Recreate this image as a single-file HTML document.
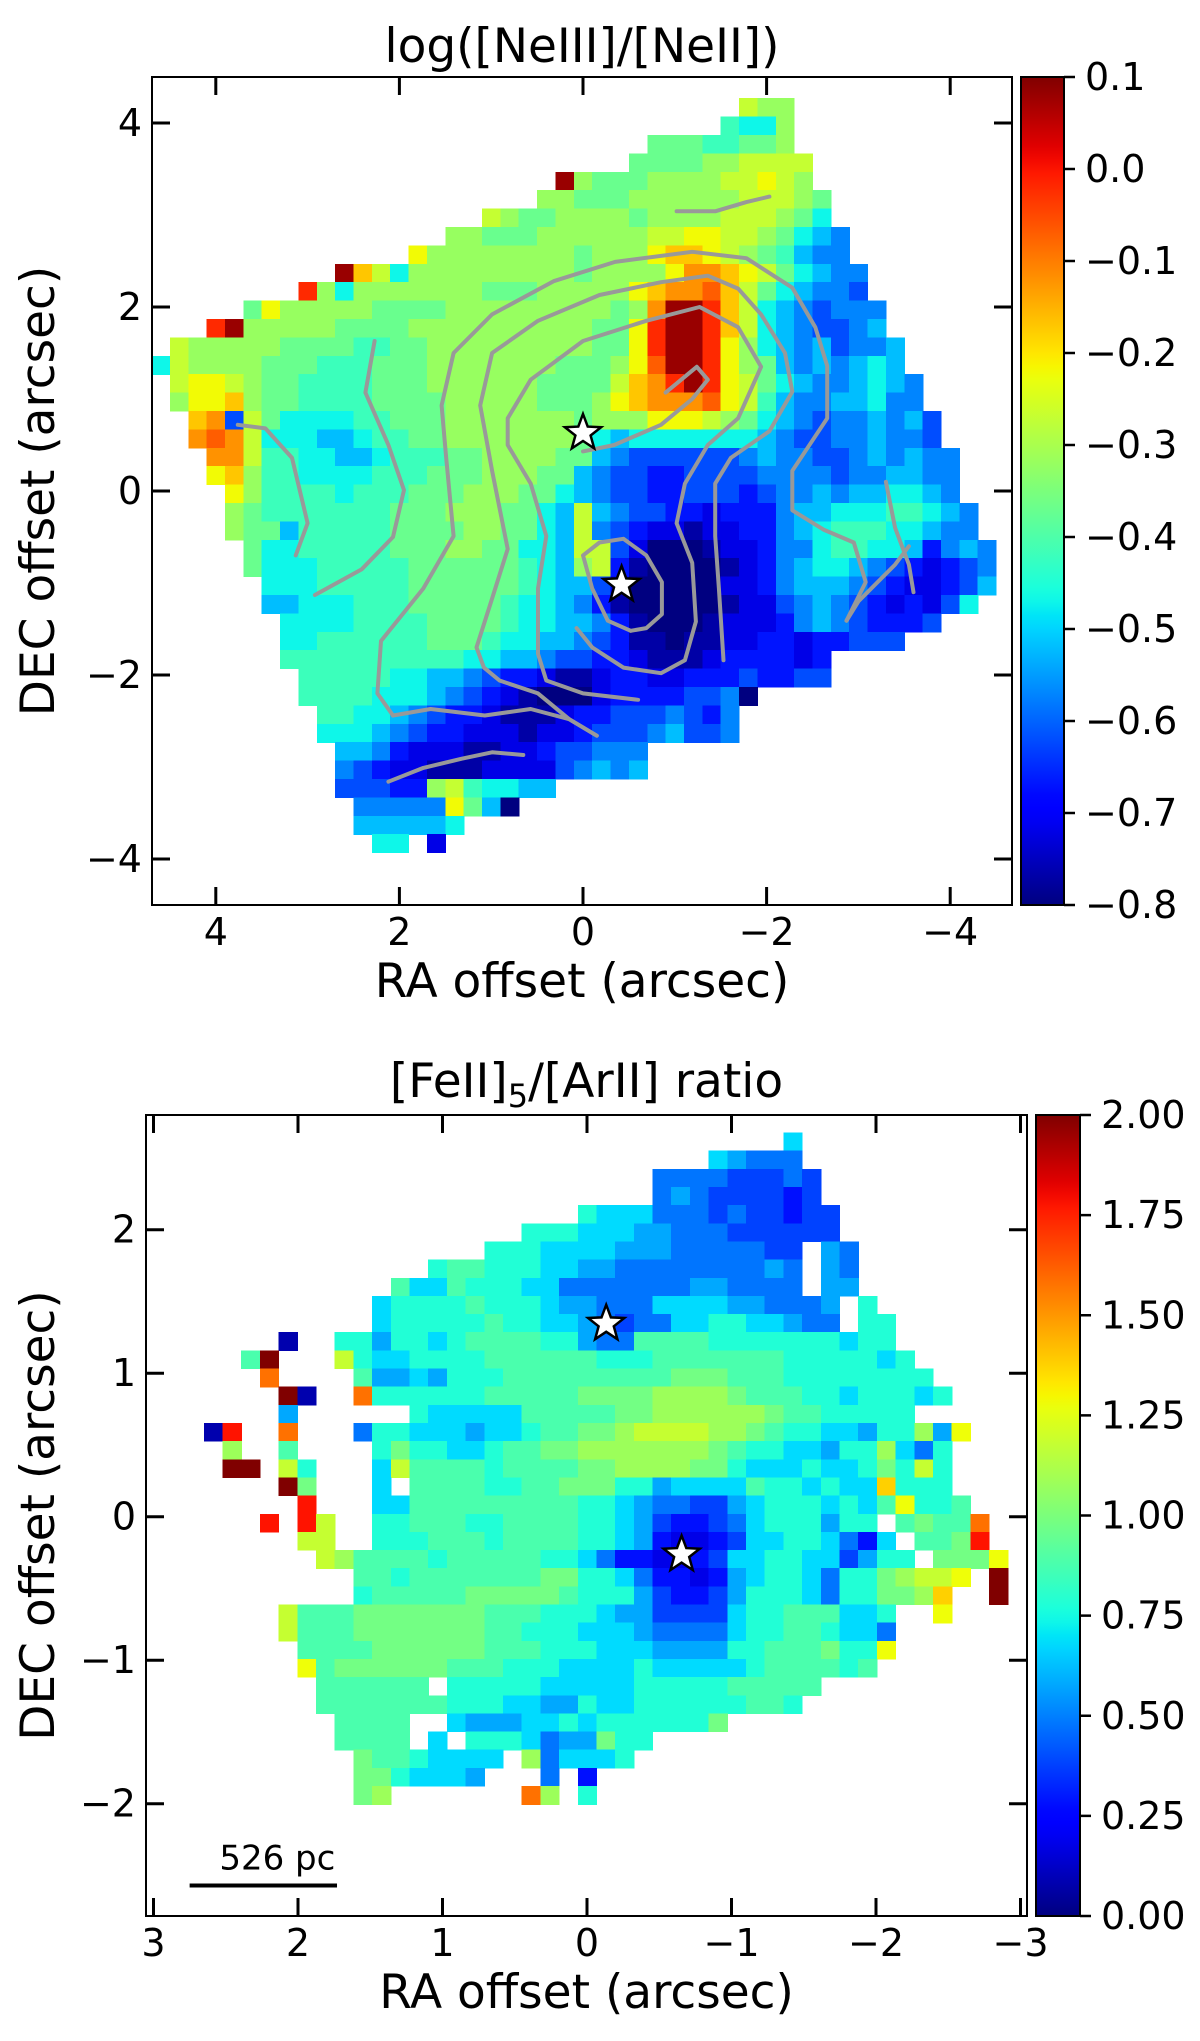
<!DOCTYPE html>
<html><head><meta charset="utf-8">
<style>
html,body{margin:0;padding:0;background:#fff;}
svg{display:block;font-family:"DejaVu Sans","Liberation Sans",sans-serif;}
</style></head>
<body>
<svg id="fig" width="1200" height="2041" viewBox="0 0 1200 2041" xmlns="http://www.w3.org/2000/svg">
<defs>
<linearGradient id="jetv" x1="0" y1="1" x2="0" y2="0"></linearGradient>
</defs>
<g id="top"></g>
<g id="bot"></g>
</svg>
<script>
// ---------- DATA: top panel log([NeIII]/[NeII]); letter a=-0.82, step 0.05 ----------
const topRowStart = [32,31,27,26,22,21,18,16,14,10,8,5,3,1,0,1,1,2,2,3,3,4,4,4,5,5,6,6,7,7,7,8,8,9,9,10,10,10,11,11,12];
const topRowCodes = [
"lkk","ihhk","jjjiijjk","jjjjkkllll","skjjjkkkkllmlk","kkjjjkkkkkklllkj",
"lkjjkkkkjkkkklllkjh","kkjjjkkkkkkllmmllkjhgf","mkkkkkkkkjkkkmnnmlkjigff",
"snlhkkkkkkkkkjkkkkmoonmljhgff","qkhkkkkkkkjjjkkkkkmnoopnljhgffe",
"jmkkkkkjjjjkkkkkkkkkjkossqnlhgfefff",
"qskkkkkjjjjkkkkkkkkkkjjmqssqnlhgfeefg",
"lkkkkkjjjjiijjkkkkkkkkkjjmqssqmkhgfgeffg",
"hlkkkkjjjiiijjjkkkkkkkjjjkmpssqmkjgfgfghg",
"lmmlkjjiiiijjjkkkkkkjjjjlnoqsqmljhgffghgf",
"kmmnkjjiiiijjjjkkkkkjjjkmnooopmligffgghff",
"noeljhhhhiijjjkkkkkkkjkkkmmmlkjhgfeffgfge",
"opolhhhgghiijjkkkkkkkjhghhhhhhhgfeeffgffe",
"ooliihhgghiiijjkkkkjjgfeeeeeefgffeefgfgff",
"mnkiihhhhiiijjjkkkjjgfeeddeeeeffffeffggff",
"mkiiiihiiijjjkkkjjhgfeeddeeedeffgfgghhgf",
"kjiiiiiiijjjkkkjjhglgfeeddcdddfgghhhiihgf",
"kjjgiiiiijjjjkkjjhglfedccbccddfghiiihhgff",
"jhhiiiiijjjkkjjhhgllecaaabccdffhiihhgdfgf",
"jhhhiiiiijjjjjjihgkldbaaaabcdfghhgfedcdef",
"hhhiiiiijjjjjjihggecaaaaaccdfgggfedccdeg",
"gghhhiiijjjjjihhgfdbaaaaabccefgfedcdceh",
"hhhhiiiijjjjihhggfdbaaabcccdfgfeddde",
"hhiiiiiijjjihhggfedbbabbccddcddeee",
"iiiiiiiiiihhggfeeddcbbbcddddcd",
"iiiiihhggfeddcbbcddccdddeddee",
"iiiihhhgfedcbaaacddddeefa",
"iihhgfeddcbbbcddeeefedf",
"hhhgfeddcccbccdeeefgeef",
"ggfdcccbbccdeefff",
"fedccbbbccccefgfg",
"eeeddklihhgg",
"fffffmjga",
"gggggh",
"hh.c"];
const topRA0 = 4.70, topDEC0 = 4.27, topCell = 0.2;
const topVmin = -0.8, topVmax = 0.1, topCodeBase = -0.82, topStep = 0.05;
const topXTicks = [4,2,0,-2,-4];
const topXTickLabels = ["4","2","0","\u22122","\u22124"];
const topYTicks = [4,2,0,-2,-4];
const topYTickLabels = ["4","2","0","\u22122","\u22124"];
const topCbTicks = [0.1,0,-0.1,-0.2,-0.3,-0.4,-0.5,-0.6,-0.7,-0.8];
const topCbLabels = ["0.1","0.0","\u22120.1","\u22120.2","\u22120.3","\u22120.4","\u22120.5","\u22120.6","\u22120.7","\u22120.8"];
const topStarsRA = [0.0, -0.42];
const topStarsDEC = [0.63, -1.02];
const contourRA = [
[-1.02,-1.44,-1.78,-2.03],
[3.76,3.46,3.17,3.0,3.13],
[2.27,2.37,2.12,1.95,2.07,2.41,2.92],
[2.07,2.24,2.20,1.74,1.41,1.49,1.54,1.41,0.99,0.32,-0.35,-1.19,-1.78,-2.28,-2.53,-2.66,-2.66,-2.28,-2.28,-2.62,-2.95,-3.08,-2.87],
[-0.15,0.15,0.49,0.91,1.08,1.16,1.0,0.82,0.99,1.12,0.99,0.49,-0.18,-0.85,-1.36,-1.69,-1.94,-2.2,-2.28,-2.03,-1.61,-1.44,-1.44,-1.48,-1.53],
[-0.6,0.0,0.4,0.49,0.49,0.4,0.57,0.82,0.82,0.57,0.0,-0.69,-1.27,-1.69,-1.94,-1.69,-1.36,-1.11,-1.02,-1.19,-1.23,-1.11,-0.85,-0.44,-0.1,0.07],
[0.0,-0.34,-0.85,-1.19,-1.36,-1.24,-1.07,-0.9],
[-0.52,-0.27,-0.1,0.0,-0.18,-0.44,-0.69,-0.86,-0.86,-0.69,-0.52],
[2.07,1.66,1.07,0.57,0.15,-0.15],
[2.12,1.74,1.32,0.99,0.65],
[-3.3,-3.4,-3.55,-3.6],
[-2.87,-3.0,-3.4,-3.55]];
const contourDEC = [
[3.04,3.04,3.14,3.2],
[0.72,0.68,0.36,-0.35,-0.7],
[1.63,1.07,0.5,0.01,-0.5,-0.85,-1.13],
[-2.44,-2.2,-1.63,-1.06,-0.49,0.36,0.93,1.5,1.92,2.28,2.49,2.6,2.53,2.21,1.78,1.36,0.79,0.22,-0.21,-0.42,-0.56,-0.99,-1.41],
[-2.66,-2.48,-2.2,-2.06,-1.92,-1.7,-1.2,-0.63,0.22,0.93,1.5,1.85,2.13,2.27,2.34,2.2,1.92,1.5,1.08,0.65,0.36,0.08,-0.49,-1.06,-1.84],
[-2.27,-2.2,-2.06,-1.77,-1.06,-0.49,0.08,0.5,0.79,1.21,1.63,1.85,2.0,1.78,1.35,0.79,0.5,0.08,-0.35,-0.78,-1.42,-1.84,-1.98,-1.92,-1.7,-1.49],
[0.43,0.5,0.72,1.0,1.21,1.35,1.21,1.07],
[-1.52,-1.41,-1.06,-0.7,-0.56,-0.52,-0.7,-0.99,-1.34,-1.49,-1.52],
[-2.44,-2.37,-2.44,-2.37,-2.48,-2.66],
[-3.16,-3.01,-2.91,-2.84,-2.87],
[0.1,-0.4,-0.8,-1.1],
[-1.41,-1.2,-0.8,-0.6]];

// ---------- DATA: bottom panel [FeII]5/[ArII]; letter a=0.08, step 0.1 ----------
const botRowStart = [31,27,24,24,20,17,15,12,10,9,9,4,2,3,4,4,0,1,1,4,5,3,5,6,8,8,4,4,5,5,6,6,7,7,8,8,8];
const botRowCodes = [
"g","gfeee","eeeeddded","efeddddcd","hgggeeededdcdd","hhhgggffeeedddddd",
"hhhggggfffeeeeedd.fe","hiihhhggffeeeeeeeefe.fe","iggihhhggeeeeeeeffeeee.ff",
"ghhhhihhhgffeeeggggffeeef.h","ghhhhhihhggfedeegghhggfee.hh",
"a..hhfhhghiiiihhfeeiiiihhhhhhhghh",
"iu...lhgghhhhiiiiiihhhiiiiiiihhhhhgh",
"p....iffgfhhhiiiiiiiiijjjiiihhhhhhhh",
"ua..phhhhhhiiiiijjjjkkkkjiiihhghhhgh",
"f......hgggggiiiiijjkkkkkkjiihhhhh",
"ar..p...ehhgggfgghiijjkllllkkjihhggfhhkfm",
"k..i....hjhhgghiijjkkkkkkkjihhggfhhkgeh",
"uu.lh...gliiiihiiiijjkkkkjjhggghgghjhlh",
"uj...g.iiiihhiijjjhhfggggihhghggnhhh",
"r...ggiiiiiiiiihhgfeeddfghhhghgimhhi",
"r.rl..hhiiihhiiiihhgfdccdeghhhfhh.ijiip",
"ll..hhhiiihiiiihhgfcbbcdgghhgecg.iijr",
"lkiiiihiiiiihhgeccbbcdgghhggdfhh.jjjm",
"iihiiiiiiijjhhgeccbcfghhgehhjkllm.u",
"hiiiiijjjjjihhhfdccdfhhhgehhjjkn..u",
"liiijjjjjjjiiihhhgffddddghhiiiggh..m",
"liiijjjjjjjiihhhgggfeeeeghhiihgge",
"iiiijjjjjjiiihhhgggffffhhiiijhhm",
"mijjjjjjiiihhhgggghggggghiiiihi",
"iiiiii.hhhhhggggghhhhhiiiii",
"iiiiiiihhhggffhgghhhhhhiih",
"iiii..gfffgghghhhhhhj",
"iiii.g.hhhgeffjhh",
"jiihgggg.kegggh",
"jjhgggf...e.c",
"jk.......pk.h"];
const botRA0 = 2.652, botDEC0 = 2.677, botCellW = 0.1294, botCellH = 0.1265;
const botVmin = 0, botVmax = 2, botCodeBase = 0.08, botStep = 0.1;
const botXTicks = [3,2,1,0,-1,-2,-3];
const botXTickLabels = ["3","2","1","0","\u22121","\u22122","\u22123"];
const botYTicks = [2,1,0,-1,-2];
const botYTickLabels = ["2","1","0","\u22121","\u22122"];
const botCbTicks = [2,1.75,1.5,1.25,1,0.75,0.5,0.25,0];
const botCbLabels = ["2.00","1.75","1.50","1.25","1.00","0.75","0.50","0.25","0.00"];
const botStarsRA = [-0.133, -0.655];
const botStarsDEC = [1.344, -0.264];
const scaleBarRA = [2.75, 1.73];
const scaleBarDEC = -2.57;

const NS = "http://www.w3.org/2000/svg";
function mk(tag, attrs, parent){ const e=document.createElementNS(NS,tag); for(const k in attrs) e.setAttribute(k,attrs[k]); if(parent) parent.appendChild(e); return e; }
function clamp(v){ return Math.max(0,Math.min(1,v)); }
function interp(pts,t){
  for(let i=1;i<pts.length;i++){ if(t<=pts[i][0]){ const a=pts[i-1],b=pts[i]; return a[1]+(b[1]-a[1])*(t-a[0])/(b[0]-a[0]); } }
  return pts[pts.length-1][1];
}
const JR=[[0,0],[0.35,0],[0.66,1],[0.89,1],[1,0.5]];
const JG=[[0,0],[0.125,0],[0.375,1],[0.64,1],[0.91,0],[1,0]];
const JB=[[0,0.5],[0.11,1],[0.34,1],[0.65,0],[1,0]];
function jet(t){
  t = clamp(t);
  return "rgb("+Math.round(interp(JR,t)*255)+","+Math.round(interp(JG,t)*255)+","+Math.round(interp(JB,t)*255)+")";
}
const grad = document.getElementById('jetv');
for(let i=0;i<=60;i++){ mk('stop',{offset:(i/60),'stop-color':jet(i/60)},grad); }

function starPath(cx,cy,R){
  const r=R*0.42; let d="";
  for(let i=0;i<10;i++){ const a=-Math.PI/2+i*Math.PI/5; const rr=i%2?r:R; d+=(i?"L":"M")+(cx+rr*Math.cos(a)).toFixed(1)+","+(cy+rr*Math.sin(a)).toFixed(1); }
  return d+"Z";
}

function panel(cfg){
  const g = document.getElementById(cfg.gid);
  const X = ra => cfg.x0 - cfg.sx*ra;
  const Y = dec => cfg.y0 - cfg.sy*dec;
  const cells = mk('g',{'shape-rendering':'crispEdges'},g);
  
  
  for(let i=0;i<cfg.codes.length;i++){
    const s = cfg.codes[i];
    for(let k=0;k<s.length;k++){
      const ch = s[k]; if(ch==='.') continue;
      const v = cfg.base + (ch.charCodeAt(0)-97)*cfg.step;
      const j = cfg.start[i]+k;
      const raL = cfg.ra0 - j*cfg.cw, raR = raL - cfg.cw;
      const decT = cfg.dec0 - i*cfg.ch, decB = decT - cfg.ch;
      const r = mk('rect',{x:X(raL).toFixed(2),y:Y(decT).toFixed(2),width:(X(raR)-X(raL)+0.6).toFixed(2),height:(Y(decB)-Y(decT)+0.6).toFixed(2),fill:jet((v-cfg.vmin)/(cfg.vmax-cfg.vmin))},cells);
      
      
    }
  }
  if(cfg.cRA){
    for(let c=0;c<cfg.cRA.length;c++){
      let pts = cfg.cRA[c].map((ra,i)=>X(ra).toFixed(1)+","+Y(cfg.cDEC[c][i]).toFixed(1)).join(" ");
      const pl = mk('polyline',{points:pts,fill:'none',stroke:'#999',"stroke-width":4,"stroke-linejoin":"round","stroke-linecap":"round"},g);
      
      
    }
  }
  for(let s=0;s<cfg.starRA.length;s++){
    const st = mk('path',{d:starPath(X(cfg.starRA[s]),Y(cfg.starDEC[s]),19),fill:'#fff',stroke:'#000','stroke-width':2.5,'stroke-linejoin':'miter'},g);
    
    
  }
  if(cfg.sbRA){
    const ln = mk('line',{x1:X(cfg.sbRA[0]),x2:X(cfg.sbRA[1]),y1:Y(cfg.sbDEC),y2:Y(cfg.sbDEC),stroke:'#000','stroke-width':4},g);
    
    
    const t = mk('text',{x:(X(cfg.sbRA[0])+X(cfg.sbRA[1]))/2+14,y:Y(cfg.sbDEC)-16,'font-size':34,'text-anchor':'middle'},g);
    t.textContent='526 pc';
    
    
  }
  const fr = mk('rect',{x:cfg.L,y:cfg.T,width:cfg.R-cfg.L,height:cfg.B-cfg.T,fill:'none',stroke:'#000','stroke-width':2},g);
  
  
  const tl=18;
  cfg.xt.forEach((v,i)=>{
    const x=X(v);
    mk('line',{x1:x,x2:x,y1:cfg.B,y2:cfg.B-tl,stroke:'#000','stroke-width':3},g);
    mk('line',{x1:x,x2:x,y1:cfg.T,y2:cfg.T+tl,stroke:'#000','stroke-width':3},g);
    const t=mk('text',{x:x,y:cfg.B+40,'font-size':38,'text-anchor':'middle'},g);
    t.textContent=cfg.xtl[i];
    
    
  });
  cfg.yt.forEach((v,i)=>{
    const y=Y(v);
    mk('line',{x1:cfg.L,x2:cfg.L+tl,y1:y,y2:y,stroke:'#000','stroke-width':3},g);
    mk('line',{x1:cfg.R,x2:cfg.R-tl,y1:y,y2:y,stroke:'#000','stroke-width':3},g);
    const t=mk('text',{x:cfg.L-10,y:y+13,'font-size':38,'text-anchor':'end'},g);
    t.textContent=cfg.ytl[i];
    
    
  });
  const tt=mk('text',{x:(cfg.L+cfg.R)/2,y:cfg.titleY,'font-size':47,'text-anchor':'middle'},g);
  tt.innerHTML=cfg.title;
  
  
  const xl=mk('text',{x:(cfg.L+cfg.R)/2,y:cfg.B+92,'font-size':47,'text-anchor':'middle'},g);
  xl.textContent='RA offset (arcsec)';
  
  
  const cy=(cfg.T+cfg.B)/2;
  const yl=mk('text',{x:0,y:0,'font-size':47,'text-anchor':'middle',transform:'translate(54,'+cy+') rotate(-90)'},g);
  yl.textContent='DEC offset (arcsec)';
  
  
  const cb=mk('rect',{x:cfg.cbL,y:cfg.T,width:cfg.cbR-cfg.cbL,height:cfg.B-cfg.T,fill:'url(#jetv)',stroke:'#000','stroke-width':2},g);
  
  
  cfg.cbt.forEach((v,i)=>{
    const y = cfg.B - (v-cfg.vmin)/(cfg.vmax-cfg.vmin)*(cfg.B-cfg.T);
    mk('line',{x1:cfg.cbR,x2:cfg.cbR+11,y1:y,y2:y,stroke:'#000','stroke-width':2.5},g);
    const t=mk('text',{x:cfg.cbR+21,y:y+13,'font-size':38},g);
    t.textContent=cfg.cbl[i];
    
    
  });
}

panel({gid:'top',x0:583,sx:91.8,y0:491,sy:92,L:152,R:1012,T:77,B:905,
  codes:topRowCodes,start:topRowStart,ra0:topRA0,dec0:topDEC0,cw:topCell,ch:topCell,
  vmin:topVmin,vmax:topVmax,base:topCodeBase,step:topStep,cRA:contourRA,cDEC:contourDEC,
  starRA:topStarsRA,starDEC:topStarsDEC,xt:topXTicks,xtl:topXTickLabels,yt:topYTicks,ytl:topYTickLabels,
  cbL:1021,cbR:1064,cbt:topCbTicks,cbl:topCbLabels,title:'log([NeIII]/[NeII])',titleY:62});
panel({gid:'bot',x0:587,sx:144.5,y0:1516.7,sy:143.5,L:146,R:1027,T:1115,B:1916,
  codes:botRowCodes,start:botRowStart,ra0:botRA0,dec0:botDEC0,cw:botCellW,ch:botCellH,
  vmin:botVmin,vmax:botVmax,base:botCodeBase,step:botStep,sbRA:scaleBarRA,sbDEC:scaleBarDEC,
  starRA:botStarsRA,starDEC:botStarsDEC,xt:botXTicks,xtl:botXTickLabels,yt:botYTicks,ytl:botYTickLabels,
  cbL:1036,cbR:1080,cbt:botCbTicks,cbl:botCbLabels,title:'[FeII]<tspan font-size="32" dy="10">5</tspan><tspan dy="-10">/[ArII] ratio</tspan>',titleY:1097});
</script>
</body></html>
